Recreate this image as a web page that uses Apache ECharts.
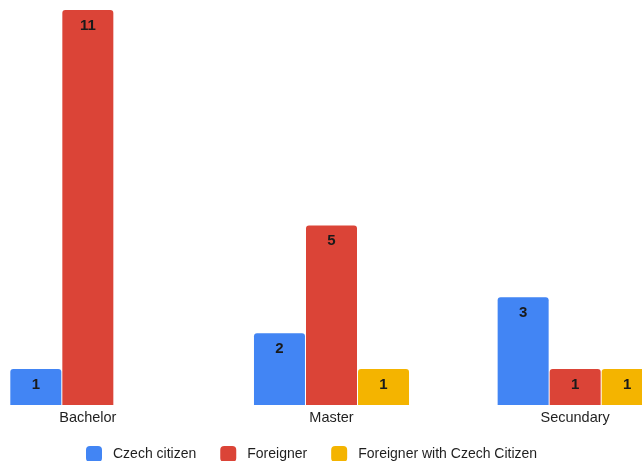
<!DOCTYPE html>
<html>
<head>
<meta charset="utf-8">
<script src="https://cdn.jsdelivr.net/npm/echarts@6/dist/echarts.min.js"></script>
<style>
  html, body { margin: 0; padding: 0; background: #fff; overflow: hidden; width: 642px; height: 461px; }
  #wrap { position: relative; width: 642px; height: 461px; overflow: hidden; }
  /* the plot runs slightly past both edges of the page */
  #chart { position: absolute; left: -34px; top: 0; width: 731px; height: 461px; }
</style>
</head>
<body>
<div id="wrap"><div id="chart"></div></div>
<script>
// Study level by citizenship status
const categories = ['Bachelor', 'Master', 'Secundary'];
const seriesNames = ['Czech citizen', 'Foreigner', 'Foreigner with Czech Citizen'];
const czechCitizen = [1, 2, 3];
const foreigner = [11, 5, 1];
const foreignerWithCzech = [null, 1, 1];
const colors = ['#4285F4', '#DB4437', '#F4B400'];

const FONT = '"Liberation Sans", Arial, sans-serif';
const chart = echarts.init(document.getElementById('chart'), null, { renderer: 'canvas' });

function barSeries(name, data, color) {
  return {
    name: name,
    type: 'bar',
    data: data,
    barWidth: 51,
    barGap: '2%',
    itemStyle: { color: color, borderRadius: [3, 3, 0, 0] },
    label: {
      show: true,
      position: 'insideTop',
      distance: 8,
      color: '#1a1a1a',
      fontFamily: FONT,
      fontWeight: 'bold',
      fontSize: 15
    }
  };
}

chart.setOption({
  animation: false,
  color: colors,
  grid: { left: 0, right: 0, top: 10, bottom: 56, containLabel: false },
  legend: {
    top: 446,
    left: 120,
    padding: 0,
    itemWidth: 16,
    itemHeight: 16,
    itemGap: 24,
    icon: 'roundRect',
    textStyle: { fontFamily: FONT, fontSize: 14, color: '#1f1f1f', padding: [0, 0, 0, 6] },
    data: seriesNames
  },
  xAxis: {
    type: 'category',
    data: categories,
    axisLine: { show: false },
    axisTick: { show: false },
    axisLabel: { fontFamily: FONT, fontSize: 14.5, color: '#1f1f1f', margin: 5 }
  },
  yAxis: {
    type: 'value',
    min: 0,
    max: 11,
    show: false,
    splitLine: { show: false }
  },
  series: [
    barSeries(seriesNames[0], czechCitizen, colors[0]),
    barSeries(seriesNames[1], foreigner, colors[1]),
    barSeries(seriesNames[2], foreignerWithCzech, colors[2])
  ]
});
</script>
</body>
</html>
